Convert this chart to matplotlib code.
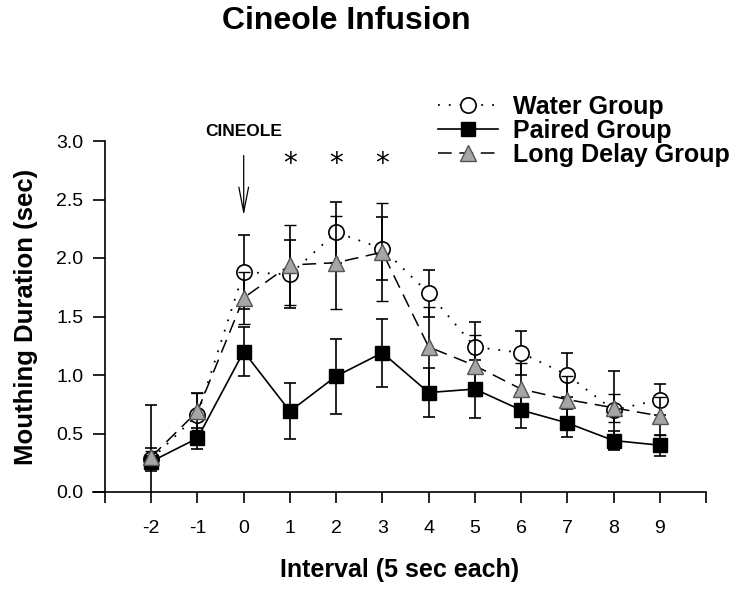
import matplotlib
matplotlib.use("Agg")
import matplotlib.pyplot as plt
from matplotlib.lines import Line2D

plt.rcParams['font.family'] = ['Liberation Sans', 'DejaVu Sans']

intervals = [-2, -1, 0, 1, 2, 3, 4, 5, 6, 7, 8, 9]
tick_labels = ["-2", "-1", "0", "1", "2", "3", "4", "5", "6", "7", "8", "9"]

water_mean = [0.28, 0.66, 1.88, 1.86, 2.22, 2.08, 1.70, 1.24, 1.19, 1.00, 0.70, 0.79]
water_err = [0.10, 0.19, 0.32, 0.29, 0.26, 0.27, 0.20, 0.21, 0.19, 0.19, 0.33, 0.13]

paired_mean = [0.26, 0.46, 1.20, 0.69, 0.99, 1.19, 0.85, 0.88, 0.70, 0.59, 0.44, 0.40]
paired_err = [0.48, 0.09, 0.21, 0.24, 0.32, 0.29, 0.21, 0.25, 0.15, 0.12, 0.08, 0.09]

delay_mean = [0.30, 0.69, 1.66, 1.94, 1.96, 2.05, 1.24, 1.08, 0.88, 0.79, 0.72, 0.65]
delay_err = [0.05, 0.16, 0.22, 0.34, 0.40, 0.42, 0.34, 0.26, 0.22, 0.20, 0.12, 0.16]

star_x = [1, 2, 3]

water_style = dict(color='black', lw=1.3, linestyle=(0, (1, 5)), marker='o', ms=11,
                   mfc='white', mec='black', mew=1.2)
paired_style = dict(color='black', lw=1.2, linestyle='-', marker='s', ms=10.5,
                    mfc='black', mec='black')
delay_style = dict(color='black', lw=1.1, linestyle=(0, (9, 5)), marker='^', ms=11.5,
                   mfc='#a6a6a6', mec='#555555', mew=1.0)
err_kw = dict(capsize=4.5, capthick=1.2, elinewidth=1.2, ecolor='black', clip_on=True)

fig = plt.figure(figsize=(7.5, 6.02), dpi=100)
ax = fig.add_axes([93/750, 1-492/602, (706-93)/750, (492-141)/602])

ax.errorbar(intervals, water_mean, yerr=water_err, zorder=3, **water_style, **err_kw)
ax.errorbar(intervals, paired_mean, yerr=paired_err, zorder=4, **paired_style, **err_kw)
ax.errorbar(intervals, delay_mean, yerr=delay_err, zorder=5, **delay_style, **err_kw)

ax.set_xlim(-3.26, 10)
ax.set_ylim(0, 3.0)
ax.spines['left'].set_position(('data', -3))
ax.spines['right'].set_visible(False)
ax.spines['top'].set_visible(False)
for s in ['left', 'bottom']:
    ax.spines[s].set_linewidth(1.2)

ax.set_xticks(list(range(-3, 11)))
ax.set_xticklabels([""] + tick_labels + [""])
ax.set_yticks([0, 0.5, 1.0, 1.5, 2.0, 2.5, 3.0])
ax.set_yticklabels(["0.0", "0.5", "1.0", "1.5", "2.0", "2.5", "3.0"])
ax.tick_params(axis='x', direction='out', length=8, width=1.2, labelsize=14, pad=12)
ax.tick_params(axis='y', direction='out', length=8.5, width=1.2, labelsize=14, pad=7)

ax.set_xlabel("Interval (5 sec each)", fontsize=18, fontweight='bold', labelpad=15)
ax.set_ylabel("Mouthing Duration (sec)", fontsize=18.5, fontweight='bold', labelpad=13)

fig.text(346/750, 1-21/602, "Cineole Infusion", fontsize=23, fontweight='bold',
         ha='center', va='center')

for sx in star_x:
    ax.text(sx, 2.80, "*", fontsize=20, ha='center', va='center', family='DejaVu Sans')

ax.text(0, 3.08, "CINEOLE", fontsize=12.5, fontweight='bold', ha='center', va='center')
ax.annotate("", xy=(0, 2.34), xytext=(0, 2.90),
            arrowprops=dict(arrowstyle='->,head_length=1.8,head_width=0.35', lw=0.9, color='black'),
            annotation_clip=False)

handles = [Line2D([], [], **water_style), Line2D([], [], **paired_style),
           Line2D([], [], **delay_style)]
labels = ['Water Group', 'Paired Group', 'Long Delay Group']
leg = ax.legend(handles, labels, loc='upper left', bbox_to_anchor=(438/750, 1-95/602),
                bbox_transform=fig.transFigure, frameon=False,
                prop={'weight': 'bold', 'size': 18}, handlelength=2.4,
                handletextpad=0.6, labelspacing=0.0, borderaxespad=0, borderpad=0)

fig.savefig("out.png", dpi=100)
